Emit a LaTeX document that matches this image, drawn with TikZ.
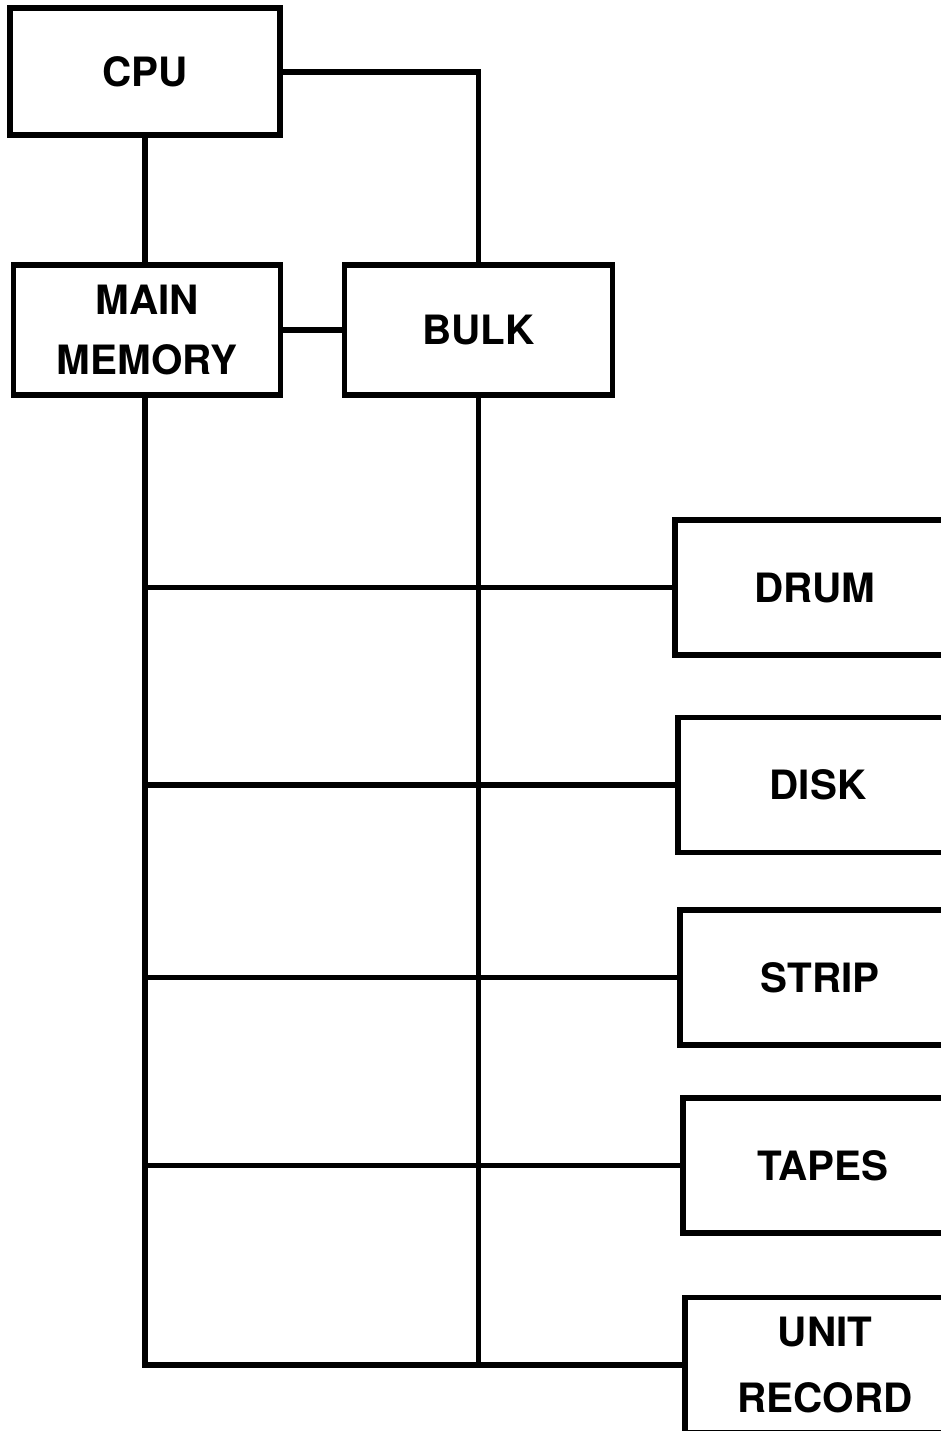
\documentclass[tikz,border=0pt]{standalone}
\usepackage{fontspec}
\setmainfont{TeX Gyre Heros}
\usepackage{tikz}
\usetikzlibrary{positioning, calc}
\tikzset{
    unitbox/.style={draw, line width=3pt, minimum width=5.35cm, minimum height=2.6cm, align=center},
    periphbox/.style={draw, line width=3pt, minimum width=5.6cm, minimum height=2.7cm, align=center},
    bus/.style={line width=3pt},
}

\begin{document}
\begin{tikzpicture}[
    every node/.style={font=\fontsize{23}{34}\selectfont\bfseries},
]
\useasboundingbox (0,0) rectangle (18.82,-28.62);
\clip (0,0) rectangle (18.82,-28.62);
% processor side
\node[unitbox, minimum width=5.4cm, minimum height=2.54cm] (cpu) at (2.9,-1.43) {CPU};
\node[unitbox] (mem) at (2.94,-6.6) {MAIN\\MEMORY};
\node[unitbox] (bulk) at (9.57,-6.6) {BULK};
% peripherals
\node[periphbox] (drum) at (16.3,-11.75) {DRUM};
\node[periphbox] (disk) at (16.36,-15.7) {DISK};
\node[periphbox] (strip) at (16.4,-19.55) {STRIP};
\node[periphbox] (tapes) at (16.46,-23.31) {TAPES};
\node[periphbox] (unit) at (16.5,-27.3) {UNIT\\[4pt]RECORD};
\draw[bus] (cpu.south -| mem.north) ++(-0.04,0) -- ($(mem.north)+(-0.04,0)$);
\draw[bus] (cpu.east |- 0,-1.44) -| (bulk.north);
\draw[bus] (mem.east) -- (bulk.west);
% the two buses down to the peripherals
\coordinate (mtop) at ($(mem.south)+(-0.04,0)$);
\coordinate (btop) at (bulk.south);
\draw[bus] (mtop) |- (unit.west);
\draw[bus] (btop) -- (btop |- unit.west);
\foreach \dev in {drum, disk, strip, tapes}
    \draw[bus] (mtop |- \dev.west) -- (\dev.west);
\end{tikzpicture}
\end{document}
